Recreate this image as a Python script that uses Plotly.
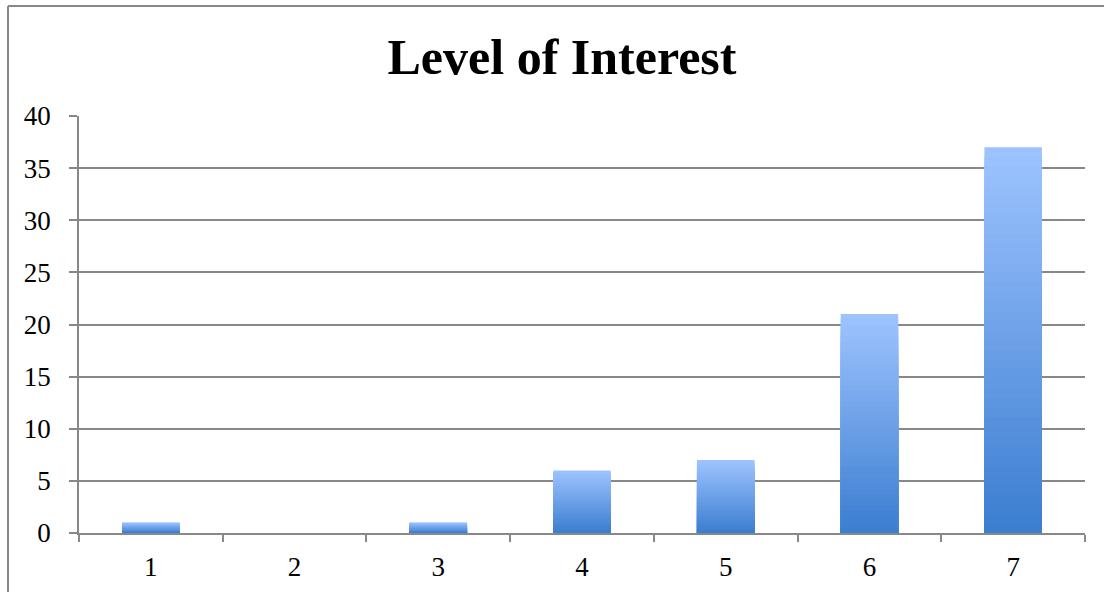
import plotly.graph_objects as go

categories = ["1", "2", "3", "4", "5", "6", "7"]
counts = [1, 0, 1, 6, 7, 21, 37]
y_ticks = [0, 5, 10, 15, 20, 25, 30, 35, 40]
title_text = "Level of Interest"

light = (157, 195, 255)
dark = (60, 126, 208)
N = 40

fig = go.Figure()
for k in range(N):
    t = k / (N - 1)
    c = tuple(round(light[i] + (dark[i] - light[i]) * t) for i in range(3))
    frac = (N - k) / N
    fig.add_trace(go.Bar(
        x=categories,
        y=[v * frac for v in counts],
        marker=dict(color="rgb(%d,%d,%d)" % c, line=dict(width=0)),
        width=0.4,
        hoverinfo="skip",
        showlegend=False,
    ))

W, H = 1104, 592
ml, mr, mt, mb = 79, 19, 116, 59
pw, ph = W - ml - mr, H - mt - mb

fig.update_layout(
    width=W, height=H,
    barmode="overlay",
    paper_bgcolor="white",
    plot_bgcolor="white",
    margin=dict(l=ml, r=mr, t=mt, b=mb, pad=0, autoexpand=False),
    title=dict(
        text="<b>" + title_text + "</b>",
        x=562 / W, xref="container", xanchor="center",
        y=1 - 56 / H, yref="container", yanchor="middle",
        font=dict(family="Liberation Serif", size=50, color="black"),
    ),
    font=dict(family="Liberation Serif", size=27, color="black"),
    xaxis=dict(
        type="category",
        automargin=False,
        tickson="boundaries",
        ticks="outside", ticklen=7, tickcolor="#888", tickwidth=1.5,
        showline=True, linecolor="#888", linewidth=1.5,
        showgrid=False,
        tickfont=dict(family="Liberation Serif", size=27, color="black"),
        ticklabelstandoff=9,
    ),
    yaxis=dict(
        range=[0, 40],
        automargin=False,
        tickvals=y_ticks,
        ticks="outside", ticklen=8, tickcolor="#888", tickwidth=1.5,
        showline=True, linecolor="#888", linewidth=1.5,
        showgrid=True, gridcolor="#888", gridwidth=1.5,
        zeroline=False,
        tickfont=dict(family="Liberation Serif", size=27, color="black"),
        ticklabelstandoff=13,
    ),
    shapes=[
        dict(type="line", xref="paper", yref="paper",
             x0=(8 - ml) / pw, x1=(W + 5 - ml) / pw,
             y0=(H - mb - 6) / ph, y1=(H - mb - 6) / ph,
             line=dict(color="#888", width=2)),
        dict(type="line", xref="paper", yref="paper",
             x0=(8 - ml) / pw, x1=(8 - ml) / pw,
             y0=(H - mb - 6) / ph, y1=-(mb + 5) / ph,
             line=dict(color="#888", width=2)),
    ],
)

fig.write_html("out.html")
